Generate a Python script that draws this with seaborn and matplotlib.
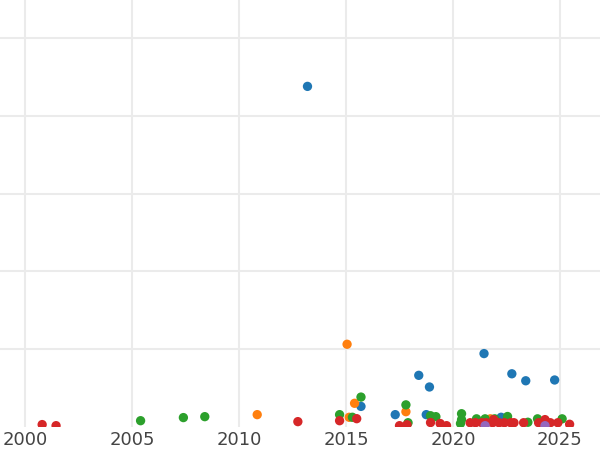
import pandas as pd
import numpy as np
import matplotlib.pyplot as plt
import seaborn as sb

# values (year, value) per group
blue_year = [2013.2, 2021.45, 2018.4, 2018.9, 2022.75, 2023.4, 2024.75, 2015.7, 2017.3, 2018.75, 2022.25]
blue_val = [219, 47, 33, 25.5, 34, 29.5, 30, 13, 7.7, 7.7, 6]

orange_year = [2015.05, 2015.4, 2017.8, 2010.85, 2015.15, 2021.75]
orange_val = [53, 15, 9.6, 7.7, 6, 5]

green_year = [2005.4, 2007.4, 2008.4, 2015.7, 2017.8, 2014.7, 2015.3, 2017.9, 2018.95, 2019.2,
              2020.4, 2020.4, 2020.35, 2021.1, 2021.5, 2021.95, 2022.55, 2023.5, 2023.95, 2025.1]
green_val = [3.8, 5.8, 6.4, 19, 14, 7.7, 6, 2.5, 7, 6.4,
             8.3, 4.5, 2, 5, 5, 5, 6.5, 2.8, 5, 5]

red_year = [2000.8, 2001.45, 2012.75, 2014.7, 2015.5, 2017.5, 2017.85, 2018.95, 2019.4, 2019.7,
            2020.8, 2021.05, 2021.35, 2021.55, 2021.85, 2022.15, 2022.4, 2022.7, 2022.85, 2023.3,
            2024.0, 2024.25, 2024.55, 2024.9, 2025.45, 2021.9, 2024.3]
red_val = [1.3, 0.6, 3.2, 3.8, 5.1, 0.6, 1.2, 2.6, 2, 0.6,
           2.5, 2.5, 2.5, 2.5, 2.5, 2.5, 2.5, 2.5, 2.5, 2.5,
           2.5, 2.5, 2.5, 2.5, 1.5, 4.5, 4.5]

purple_year = [2021.5, 2024.3]
purple_val = [0.6, 0.6]

groups = ['A', 'B', 'C', 'D', 'E']
years = [blue_year, orange_year, green_year, red_year, purple_year]
vals = [blue_val, orange_val, green_val, red_val, purple_val]

data = pd.DataFrame({
    'year': sum(years, []),
    'value': sum(vals, []),
    'group': sum([[g] * len(y) for g, y in zip(groups, years)], []),
})

sb.set_style('whitegrid')
fig = plt.figure(figsize=(6, 4.5), dpi=100)
ax = fig.add_axes([0, 0.052, 1, 0.948])

sb.scatterplot(data=data, x='year', y='value', hue='group', hue_order=groups,
               palette=['#1f77b4', '#ff7f0e', '#2ca02c', '#d62728', '#9467bd'],
               s=45, linewidth=0, legend=False, ax=ax, zorder=3)

ax.set_xlim(1998.83, 2026.87)
ax.set_ylim(0, 274.6)
ax.set_xticks([2000, 2005, 2010, 2015, 2020, 2025])
# bottom grid line is not visible in the original
ax.set_yticks([50, 100, 150, 200, 250])
ax.set_yticklabels([])
ax.grid(color='#ebebeb', linewidth=1.5)
ax.tick_params(axis='x', labelsize=13, labelcolor='#444444', length=0, pad=3)
ax.tick_params(axis='y', length=0)
for sp in ax.spines.values():
    sp.set_visible(False)
ax.set_xlabel('')
ax.set_ylabel('')

plt.savefig('out.png', dpi=100)
